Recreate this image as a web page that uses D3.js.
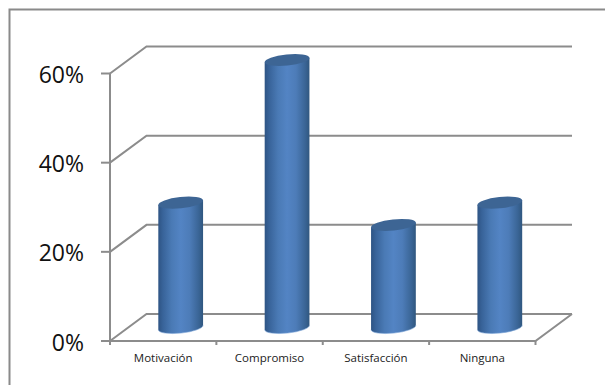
<!DOCTYPE html>
<html>
<head>
<meta charset="utf-8">
<script src="https://cdn.jsdelivr.net/npm/d3@7"></script>
<style>
  html, body { margin: 0; padding: 0; background: #fff; }
  text { font-family: "Open Sans", Lato, sans-serif; }
</style>
</head>
<body>
<div id="chart"></div>
<script>
var categories = ["Motivación", "Compromiso", "Satisfacción", "Ninguna"];
var values = [28, 60, 23, 28];
var yTicks = [0, 20, 40, 60];

var width = 605, height = 385;
var depthX = 36.5, depthY = -27;   // oblique offset of the back wall
var barWidth = 45;
var capRy = 5.6, capTilt = -6;
var lineColor = "#8c8c8c";

var svg = d3.select("#chart").append("svg")
    .attr("width", width)
    .attr("height", height)
    .style("display", "block");

var xScale = d3.scaleBand().domain(categories).range([110, 535.5]);
var yScale = d3.scaleLinear().domain([0, 60]).range([341, 73.5]);
var xEnd = xScale.range()[1];

var defs = svg.append("defs");
var grad = defs.append("linearGradient").attr("id", "cyl")
    .attr("x1", "0%").attr("x2", "100%").attr("y1", "0%").attr("y2", "0%");
grad.selectAll("stop")
    .data([[0, "#2e5484"], [0.1, "#386399"], [0.3, "#4a7ab5"], [0.5, "#5384c4"], [0.7, "#4d7cb8"], [0.9, "#3a6596"], [1, "#30577f"]])
    .enter().append("stop")
    .attr("offset", function(d){ return d[0]; })
    .attr("stop-color", function(d){ return d[1]; });

// frame: only the top and left edges fall inside the page
svg.append("path")
    .attr("d", d3.line()([[9.5, height], [9.5, 9.5], [width, 9.5]]))
    .attr("fill", "none")
    .attr("stroke", "#8a8a8a")
    .attr("stroke-width", 2);

var walls = svg.append("g")
    .attr("stroke", lineColor)
    .attr("stroke-width", 2)
    .attr("fill", "none");

// gridlines: slanted side wall plus back wall
walls.selectAll("path.grid")
    .data(yTicks)
    .enter().append("path")
    .attr("class", "grid")
    .attr("d", function(d){
        var y = yScale(d);
        return d3.line()([[110, y], [110 + depthX, y + depthY], [xEnd + depthX, y + depthY]]);
    });

// floor edges
walls.append("path")
    .attr("d", d3.line()([[110, yScale(0)], [xEnd, yScale(0)], [xEnd + depthX, yScale(0) + depthY]]));

// value axis with outward ticks
walls.append("line")
    .attr("x1", 110).attr("x2", 110)
    .attr("y1", yScale(60)).attr("y2", yScale(0) + 2);
walls.selectAll("line.ytick")
    .data(yTicks)
    .enter().append("line")
    .attr("class", "ytick")
    .attr("x1", 101).attr("x2", 110)
    .attr("y1", function(d){ return yScale(d); })
    .attr("y2", function(d){ return yScale(d); });

// category ticks
var tickEdges = categories.map(function(c){ return xScale(c); }).concat([xEnd]);
walls.selectAll("line.xtick")
    .data(tickEdges)
    .enter().append("line")
    .attr("class", "xtick")
    .attr("x1", function(d){ return d; }).attr("x2", function(d){ return d; })
    .attr("y1", 341).attr("y2", 345);

svg.selectAll("text.ylabel")
    .data(yTicks)
    .enter().append("text")
    .attr("class", "ylabel")
    .attr("x", 84)
    .attr("y", function(d){ return yScale(d) + 9.5; })
    .attr("text-anchor", "end")
    .attr("font-size", 23)
    .attr("fill", "#111")
    .text(function(d){ return d + "%"; });

svg.selectAll("text.xlabel")
    .data(categories)
    .enter().append("text")
    .attr("class", "xlabel")
    .attr("x", function(d){ return xScale(d) + xScale.bandwidth() / 2; })
    .attr("y", 361.5)
    .attr("text-anchor", "middle")
    .attr("font-size", 11.5)
    .attr("fill", "#222")
    .text(function(d){ return d; });

// cylinders: body with rounded base, then the tilted top cap
var rx = barWidth / 2;
var a = capTilt * Math.PI / 180;
var ex = rx * Math.cos(a), ey = rx * Math.sin(a);

function barX(c){ return xScale(c) + xScale.bandwidth() / 2 + 17.5; }

var bars = svg.selectAll("g.bar")
    .data(categories.map(function(c, i){ return {cat: c, val: values[i]}; }))
    .enter().append("g")
    .attr("class", "bar");

function baseArc(d){
    var cx = barX(d.cat), base = yScale(0) + depthY / 2;
    return "M" + (cx - ex) + "," + (base - ey)
        + "A" + rx + "," + capRy + "," + capTilt + ",0,0," + (cx + ex) + "," + (base + ey);
}

bars.append("path")
    .attr("fill", "url(#cyl)")
    .attr("d", function(d){
        var cx = barX(d.cat), top = yScale(d.val) + depthY / 2;
        return baseArc(d)
            + "L" + (cx + ex) + "," + (top + ey)
            + "L" + (cx - ex) + "," + (top - ey) + "Z";
    });

// faint light rim along the base
bars.append("path")
    .attr("fill", "none")
    .attr("stroke", "#7ea6d8")
    .attr("stroke-width", 1)
    .attr("stroke-opacity", 0.6)
    .attr("d", baseArc);

bars.append("ellipse")
    .attr("rx", rx)
    .attr("ry", capRy)
    .attr("fill", "#3d6594")
    .attr("transform", function(d){
        return "translate(" + barX(d.cat) + "," + (yScale(d.val) + depthY / 2) + ") rotate(" + capTilt + ")";
    });
</script>
</body>
</html>
